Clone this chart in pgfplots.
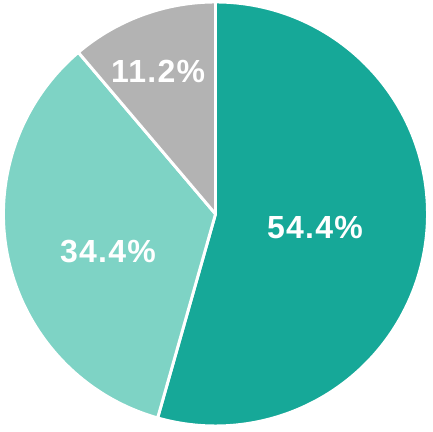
\documentclass[border=0pt]{standalone}
\usepackage{fontspec}
\setmainfont{Liberation Sans}[LetterSpace=4]
\usepackage{pgfplots}
\pgfplotsset{compat=1.18}
\definecolor{tealA}{HTML}{16A898}
\definecolor{tealB}{HTML}{7ED3C5}
\definecolor{greyC}{HTML}{B3B3B3}

% slice shares in percent
\def\va{54.4}
\def\vb{34.4}
\def\vc{11.2}

\begin{document}
\begin{tikzpicture}
\begin{axis}[hide axis, scale only axis, width=324pt, height=324pt,
  xmin=-1.0165, xmax=1.0212, ymin=-1.0283, ymax=1.0094, clip=false]
  \pgfmathsetmacro{\aa}{90}
  \pgfmathsetmacro{\ab}{90-3.6*\va}
  \pgfmathsetmacro{\ac}{\ab-3.6*\vb}
  \pgfmathsetmacro{\ad}{\ac-3.6*\vc}
  \filldraw[fill=tealA, draw=white, line width=2.2pt, line join=round]
    (axis cs:0,0) -- (axis cs:{cos(\aa)},{sin(\aa)}) arc[start angle=\aa, end angle=\ab, radius=159pt] -- cycle;
  \filldraw[fill=tealB, draw=white, line width=2.2pt, line join=round]
    (axis cs:0,0) -- (axis cs:{cos(\ab)},{sin(\ab)}) arc[start angle=\ab, end angle=\ac, radius=159pt] -- cycle;
  \filldraw[fill=greyC, draw=white, line width=2.2pt, line join=round]
    (axis cs:0,0) -- (axis cs:{cos(\ac)},{sin(\ac)}) arc[start angle=\ac, end angle=\ad, radius=159pt] -- cycle;
  \node[text=white, font=\fontsize{24}{28}\selectfont\bfseries] at (axis cs:0.469,-0.066) {54.4\%};
  \node[text=white, font=\fontsize{24}{28}\selectfont\bfseries] at (axis cs:-0.507,-0.175) {34.4\%};
  \node[text=white, font=\fontsize{24}{28}\selectfont\bfseries] at (axis cs:-0.271,0.670) {11.2\%};
\end{axis}
\pgfresetboundingbox
\path (current axis.south west) rectangle (current axis.north east);
\end{tikzpicture}
\end{document}
